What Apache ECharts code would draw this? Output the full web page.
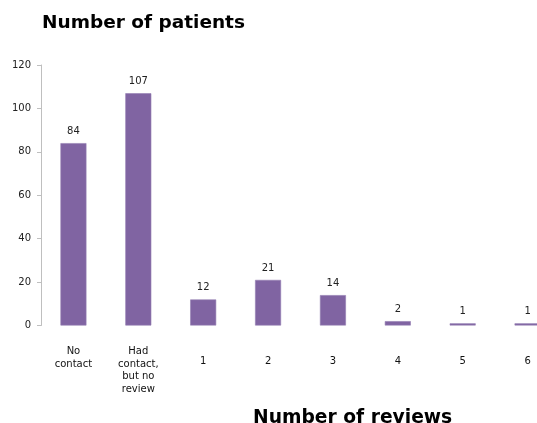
<!DOCTYPE html>
<html>
<head>
<meta charset="utf-8">
<script src="https://cdn.jsdelivr.net/npm/echarts@6/dist/echarts.min.js"></script>
<style>
  html, body { margin: 0; padding: 0; background: #fff; overflow: hidden; }
  #chart { width: 600px; height: 423px; }
</style>
</head>
<body>
<div id="chart"></div>
<script>
// Patients by number of reviews
const categories = ['No\ncontact', 'Had\ncontact,\nbut no\nreview', '1', '2', '3', '4', '5', '6'];
const patients = [84, 107, 12, 21, 14, 2, 1, 1];
const yTicks = [0, 20, 40, 60, 80, 100, 120];

const FONT = '"DejaVu Sans", Verdana, sans-serif';

const chart = echarts.init(document.getElementById('chart'), null, { renderer: 'canvas' });

const categoryData = categories.map(c => {
  const multiLine = c.indexOf('\n') >= 0;
  return {
    value: c,
    textStyle: multiLine ? {} : { padding: [10, 0, 0, 0] }
  };
});

chart.setOption({
  animation: false,
  backgroundColor: '#ffffff',
  title: [
    {
      text: 'Number of patients',
      left: 37,
      top: 9,
      textStyle: { fontFamily: FONT, fontSize: 18.5, fontWeight: 'bold', color: '#000' }
    },
    {
      text: 'Number of reviews',
      left: 248,
      top: 404,
      textStyle: { fontFamily: FONT, fontSize: 18.7, fontWeight: 'bold', color: '#000' }
    }
  ],
  grid: { left: 41, right: 40, top: 65, bottom: 97.5, containLabel: false },
  xAxis: {
    type: 'category',
    data: categoryData,
    axisLine: { show: false },
    axisTick: { show: false },
    axisLabel: {
      interval: 0,
      margin: 20,
      verticalAlign: 'top',
      lineHeight: 12.5,
      fontFamily: FONT,
      fontSize: 10,
      color: '#111'
    }
  },
  yAxis: {
    type: 'value',
    min: yTicks[0],
    max: yTicks[yTicks.length - 1],
    interval: yTicks[1] - yTicks[0],
    splitLine: { show: false },
    axisLine: { show: true, lineStyle: { color: '#bfbfbf', width: 1 } },
    axisTick: { show: true, length: 4, lineStyle: { color: '#bfbfbf' } },
    axisLabel: {
      margin: 10,
      fontFamily: FONT,
      fontSize: 10,
      color: '#222'
    }
  },
  series: [
    {
      type: 'bar',
      data: patients,
      barWidth: 26,
      itemStyle: { color: '#8064A2', borderColor: '#9580b4', borderWidth: 0.6 },
      label: {
        show: true,
        position: 'top',
        distance: 7,
        fontFamily: FONT,
        fontSize: 10,
        color: '#222'
      }
    }
  ]
});
</script>
</body>
</html>
